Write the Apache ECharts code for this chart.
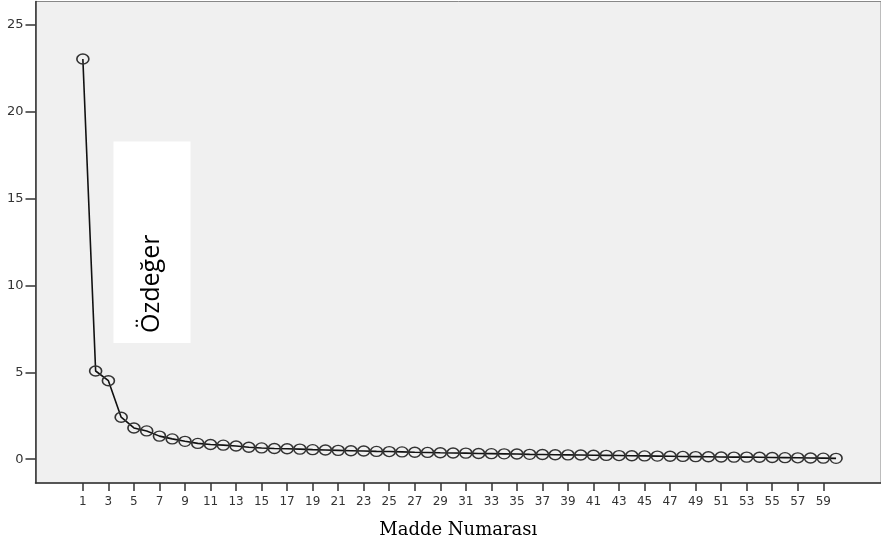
<!DOCTYPE html>
<html><head><meta charset="utf-8">
<script src="https://cdn.jsdelivr.net/npm/echarts@6/dist/echarts.min.js"></script>
<style>html,body{margin:0;padding:0;background:#fff}#c{width:881px;height:544px}</style>
</head><body><div id="c"></div>
<script>
const items = [1,2,3,4,5,6,7,8,9,10,11,12,13,14,15,16,17,18,19,20,21,22,23,24,25,26,27,28,29,30,31,32,33,34,35,36,37,38,39,40,41,42,43,44,45,46,47,48,49,50,51,52,53,54,55,56,57,58,59,60];
const eigenvalues = [23.05,5.08,4.52,2.42,1.80,1.63,1.33,1.17,1.03,0.91,0.85,0.81,0.76,0.69,0.65,0.62,0.60,0.58,0.55,0.53,0.51,0.49,0.47,0.45,0.44,0.42,0.40,0.39,0.37,0.36,0.35,0.33,0.32,0.31,0.30,0.28,0.27,0.26,0.25,0.24,0.23,0.22,0.21,0.20,0.19,0.18,0.17,0.16,0.15,0.14,0.13,0.12,0.12,0.11,0.10,0.09,0.08,0.07,0.06,0.05];
const xTickLabels = [1,3,5,7,9,11,13,15,17,19,21,23,25,27,29,31,33,35,37,39,41,43,45,47,49,51,53,55,57,59];
const yTickLabels = [0,5,10,15,20,25];
const xTitle = 'Madde Numarası';
const yTitle = 'Özdeğer';

const points = items.map((it, i) => [it, eigenvalues[i]]);
const chart = echarts.init(document.getElementById('c'), null, {renderer: 'canvas'});
const axisCol = '#333';
chart.setOption({
  animation: false,
  backgroundColor: '#fff',
  grid: {left: 35.5, right: 0, top: 1.5, bottom: 58.3, show: true, backgroundColor: '#f0f0f0', borderColor: '#888', borderWidth: 1},
  xAxis: {
    type: 'value', min: -2.71, max: 63.52,
    splitLine: {show: false},
    axisLine: {show: true, onZero: false, lineStyle: {color: axisCol, width: 1.5}},
    axisTick: {show: true, customValues: xTickLabels, length: 8, lineStyle: {color: axisCol, width: 1.5}},
    axisLabel: {customValues: xTickLabels, fontSize: 12, color: '#333', margin: 13, fontFamily: 'DejaVu Sans'},
    name: xTitle, nameLocation: 'middle', nameGap: 38,
    nameTextStyle: {fontFamily: 'DejaVu Serif', fontSize: 18, color: '#000'}
  },
  yAxis: {
    type: 'value', min: -1.37, max: 26.36,
    splitLine: {show: false},
    axisLine: {show: true, onZero: false, lineStyle: {color: axisCol, width: 1.5}},
    axisTick: {show: true, customValues: yTickLabels, length: 10, lineStyle: {color: axisCol, width: 1.5}},
    axisLabel: {customValues: yTickLabels, fontSize: 13, color: '#333', margin: 12, fontFamily: 'DejaVu Sans'},
    name: yTitle, nameLocation: 'middle', nameRotate: 90, nameGap: -155,
    nameTextStyle: {fontFamily: 'Open Sans', fontSize: 25, color: '#000', backgroundColor: '#fff', padding: [22, 93, 22, 10], lineHeight: 33}
  },
  series: [{
    type: 'line', data: points,
    showSymbol: true, showAllSymbol: true,
    symbol: 'circle', symbolSize: [12, 10],
    lineStyle: {color: '#111', width: 1.6},
    itemStyle: {color: 'transparent', borderColor: '#333', borderWidth: 1.5},
    emphasis: {disabled: true}
  }]
});
</script></body></html>
